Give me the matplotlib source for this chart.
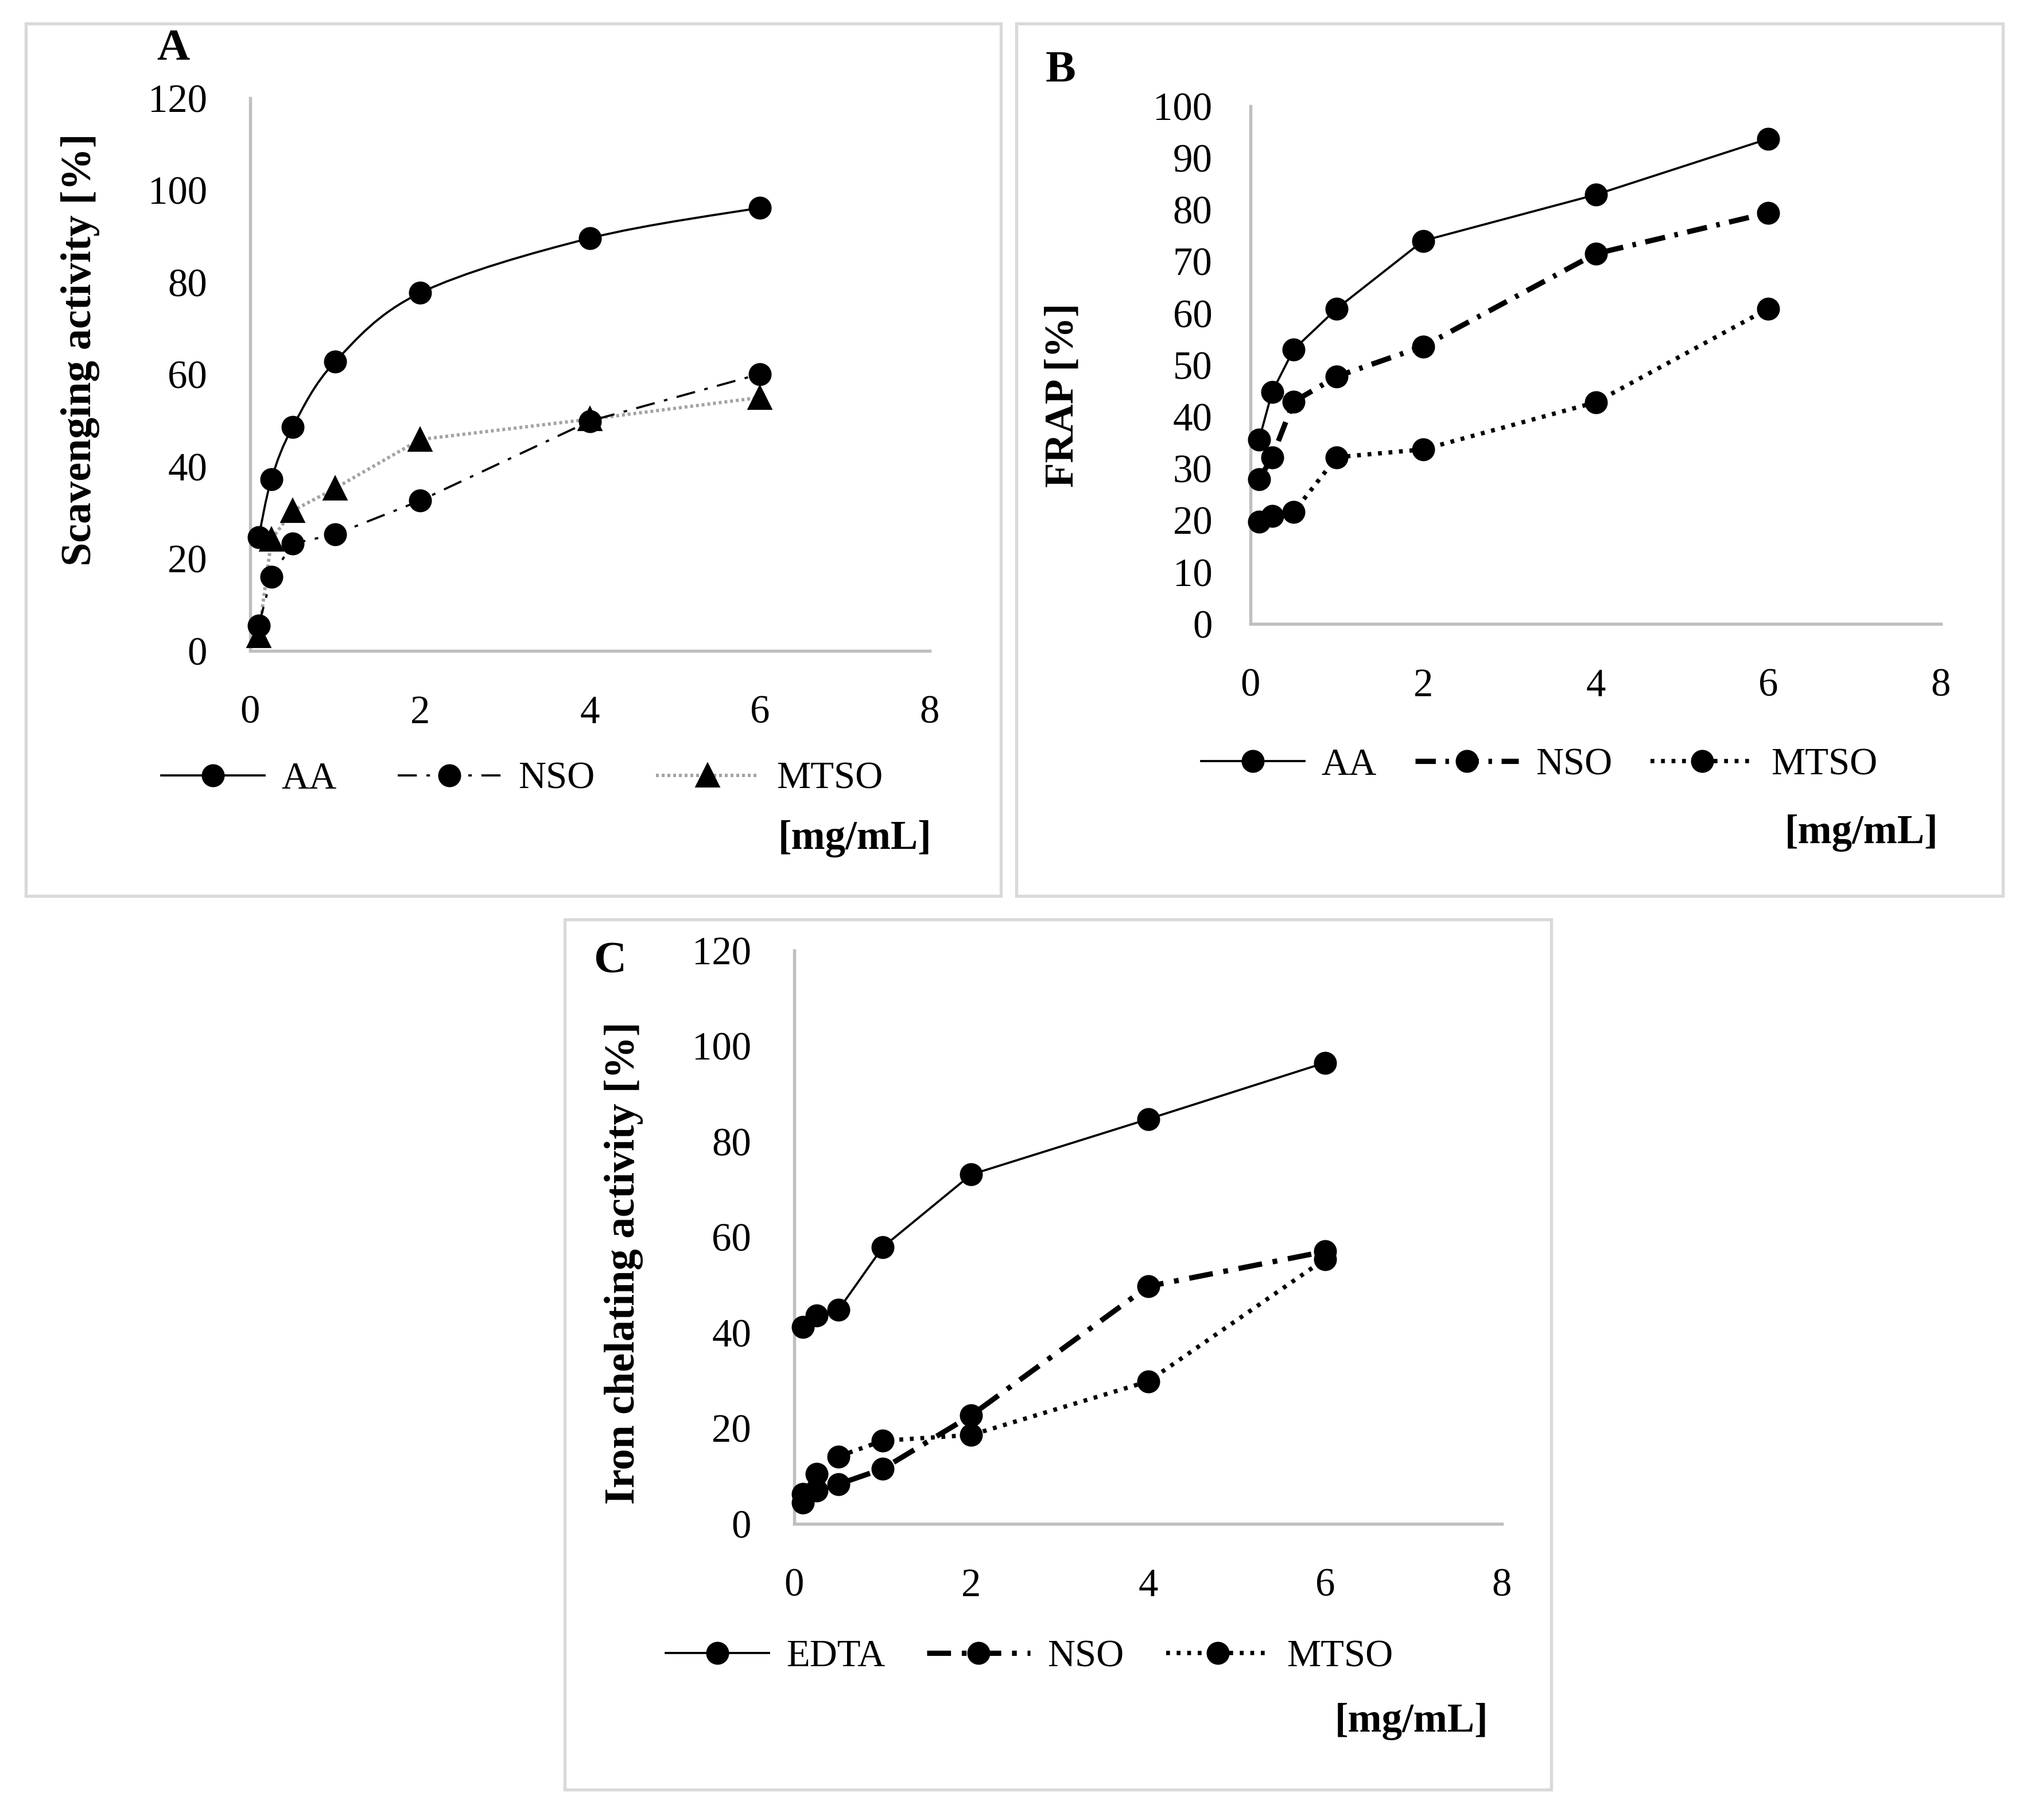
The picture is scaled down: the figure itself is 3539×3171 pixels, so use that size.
import matplotlib
matplotlib.use("Agg")
import matplotlib.pyplot as plt
from matplotlib.lines import Line2D
from matplotlib.path import Path
from matplotlib.patches import PathPatch, Rectangle

plt.rcParams['font.family'] = ['Liberation Serif', 'DejaVu Serif']
plt.rcParams['lines.scale_dashes'] = False

# ---------------- data ----------------
conc = [0.1, 0.25, 0.5, 1, 2, 4, 6]

# Panel A - scavenging activity [%]
a_AA = [24.7, 37.3, 48.6, 62.8, 77.7, 89.6, 96.2]
a_NSO = [5.5, 16.1, 23.3, 25.3, 32.6, 49.9, 60.1]
a_MTSO = [3.3, 24.2, 30.4, 35.3, 45.9, 50.3, 55.0]

# Panel B - FRAP [%]
b_AA = [35.6, 44.8, 53.0, 60.9, 74.0, 82.9, 93.7]
b_NSO = [27.9, 32.2, 42.9, 47.8, 53.6, 71.5, 79.4]
b_MTSO = [19.7, 20.8, 21.6, 32.2, 33.7, 42.8, 60.9]

# Panel C - iron chelating activity [%]
c_EDTA = [41.2, 43.6, 44.8, 57.9, 73.1, 84.7, 96.5]
c_NSO = [4.5, 7.0, 8.3, 11.5, 22.7, 49.7, 57.0]
c_MTSO = [6.3, 10.5, 14.1, 17.4, 18.6, 29.8, 55.4]

xticks = [0, 2, 4, 6, 8]
yticks_A = [0, 20, 40, 60, 80, 100, 120]
yticks_B = [0, 10, 20, 30, 40, 50, 60, 70, 80, 90, 100]
yticks_C = [0, 20, 40, 60, 80, 100, 120]

# ---------------- styles ----------------
TICK_FS = 16.5
LEG_FS = 16
LAB_FS = 17
SPINE_C = '#bfbfbf'
BOX_C = '#d9d9d9'
MS = 8.6

W, H = 3539, 3171
fig = plt.figure(figsize=(W / 300, H / 300), dpi=300)
fig.patch.set_facecolor('white')


def px_rect(x0, y0, x1, y1):
    return [x0 / W, 1 - y1 / H, (x1 - x0) / W, (y1 - y0) / H]


# panel frames
for (x0, y0, x1, y1) in [(45, 41, 1744, 1561), (1771, 41, 3490, 1561), (984, 1602, 2703, 3118)]:
    r = px_rect(x0, y0, x1, y1)
    fig.add_artist(Rectangle((r[0], r[1]), r[2], r[3], transform=fig.transFigure,
                             fill=False, ec=BOX_C, lw=1.3))


def style_axes(ax, yticks, ymax, ypad):
    ax.set_xlim(0, 8)
    ax.set_ylim(0, ymax)
    ax.set_xticks(xticks)
    ax.set_yticks(yticks)
    for s in ['top', 'right']:
        ax.spines[s].set_visible(False)
    for s in ['left', 'bottom']:
        ax.spines[s].set_color(SPINE_C)
        ax.spines[s].set_linewidth(1.3)
    ax.tick_params(axis='both', length=0, labelsize=TICK_FS, colors='black')
    ax.tick_params(axis='y', pad=ypad)
    ax.tick_params(axis='x', pad=18.5)
    ax.set_facecolor('none')


def smooth_path(xs, ys):
    pts = list(zip(xs, ys))
    n = len(pts)
    verts = [pts[0]]
    codes = [Path.MOVETO]
    for i in range(n - 1):
        p0 = pts[i - 1] if i > 0 else pts[i]
        p1 = pts[i]
        p2 = pts[i + 1]
        p3 = pts[i + 2] if i + 2 < n else pts[i + 1]
        c1 = (p1[0] + (p2[0] - p0[0]) / 6, p1[1] + (p2[1] - p0[1]) / 6)
        c2 = (p2[0] - (p3[0] - p1[0]) / 6, p2[1] - (p3[1] - p1[1]) / 6)
        verts += [c1, c2, p2]
        codes += [Path.CURVE4, Path.CURVE4, Path.CURVE4]
    return Path(verts, codes)


solid = dict(color='black', lw=0.9, linestyle='-')
leg_kw = dict(ncol=3, loc='center', frameon=False, fontsize=LEG_FS, handlelength=2.7,
              handletextpad=0.45, borderaxespad=0, borderpad=0)

# ================= Panel A =================
axA = fig.add_axes([436 / W, 1 - 1134 / H, (1620 - 436) / W, (1134 - 171) / H])
style_axes(axA, yticks_A, 120, 18)
nsoA = dict(color='black', lw=0.9, dashes=(8, 4, 1.5, 4))
mtsoA = dict(color='#a3a3a3', lw=1.4, dashes=(1.2, 1.2))
axA.add_patch(PathPatch(smooth_path(conc, a_AA), fill=False, ec='black', lw=0.9, zorder=2))
axA.plot(conc, a_MTSO, **mtsoA, zorder=2)
axA.plot(conc, a_NSO, **nsoA, zorder=2)
axA.plot(conc, a_AA, linestyle='none', marker='o', ms=MS, color='black', zorder=4, clip_on=False)
axA.plot(conc, a_NSO, linestyle='none', marker='o', ms=MS, color='black', zorder=4, clip_on=False)
axA.plot(conc, a_MTSO, linestyle='none', marker='^', ms=MS + 0.5, color='black', zorder=4, clip_on=False)
hA = [Line2D([], [], marker='o', ms=MS, **solid),
      Line2D([], [], marker='o', ms=MS, **nsoA),
      Line2D([], [], marker='^', ms=MS + 0.5, markerfacecolor='black', markeredgecolor='black', **mtsoA)]
axA.legend(hA, ['AA', 'NSO', 'MTSO'], bbox_to_anchor=(0.40, -0.232), columnspacing=1.6, **leg_kw)
axA.set_ylabel('Scavenging activity [%]', fontsize=17.8, fontweight='bold')
axA.yaxis.set_label_coords(-0.221, 0.545)
axA.text(1.003, -0.34, '[mg/mL]', transform=axA.transAxes, ha='right', va='center',
         fontsize=LAB_FS, fontweight='bold')
fig.text(302 / W, 1 - 86 / H, 'A', ha='center', va='center', fontsize=19, fontweight='bold')

# ================= Panel B =================
axB = fig.add_axes([2179 / W, 1 - 1087 / H, (3382 - 2179) / W, (1087 - 185) / H])
style_axes(axB, yticks_B, 100, 16)
nsoB = dict(color='black', lw=2.2, dashes=(8.5, 4, 1.5, 4))
mtsoB = dict(color='black', lw=1.8, dashes=(1.6, 2.8))
axB.plot(conc, b_AA, marker='o', ms=MS, zorder=3, clip_on=False, **solid)
axB.plot(conc, b_NSO, marker='o', ms=MS, zorder=3, clip_on=False, dash_capstyle='butt', **nsoB)
axB.plot(conc, b_MTSO, marker='o', ms=MS, zorder=3, clip_on=False, dash_capstyle='butt', **mtsoB)
hB = [Line2D([], [], marker='o', ms=MS, **solid),
      Line2D([], [], marker='o', ms=MS, dash_capstyle='butt', **nsoB),
      Line2D([], [], marker='o', ms=MS, dash_capstyle='butt', **mtsoB)]
axB.legend(hB, ['AA', 'NSO', 'MTSO'], bbox_to_anchor=(0.418, -0.273), columnspacing=1.0, **leg_kw)
axB.set_ylabel('FRAP [%]', fontsize=LAB_FS, fontweight='bold')
axB.yaxis.set_label_coords(-0.245, 0.442)
axB.text(0.996, -0.404, '[mg/mL]', transform=axB.transAxes, ha='right', va='center',
         fontsize=LAB_FS, fontweight='bold')
fig.text(1848 / W, 1 - 124 / H, 'B', ha='center', va='center', fontsize=19, fontweight='bold')

# ================= Panel C =================
axC = fig.add_axes([1384 / W, 1 - 2655 / H, (2617 - 1384) / W, (2655 - 1656) / H])
style_axes(axC, yticks_C, 120, 18)
nsoC = dict(color='black', lw=2.2, dashes=(10, 4.5, 2, 4.5))
mtsoC = dict(color='black', lw=1.8, dashes=(1.6, 2.8))
axC.plot(conc, c_EDTA, marker='o', ms=MS, zorder=3, clip_on=False, **solid)
axC.plot(conc, c_NSO, marker='o', ms=MS, zorder=3, clip_on=False, dash_capstyle='butt', **nsoC)
axC.plot(conc, c_MTSO, marker='o', ms=MS, zorder=3, clip_on=False, dash_capstyle='butt', **mtsoC)
hC = [Line2D([], [], marker='o', ms=MS, **solid),
      Line2D([], [], marker='o', ms=MS, dash_capstyle='butt', **nsoC),
      Line2D([], [], marker='o', ms=MS, dash_capstyle='butt', **mtsoC)]
axC.legend(hC, ['EDTA', 'NSO', 'MTSO'], bbox_to_anchor=(0.332, -0.232), columnspacing=1.1, **leg_kw)
axC.set_ylabel('Iron chelating activity [%]', fontsize=17.8, fontweight='bold')
axC.yaxis.set_label_coords(-0.213, 0.455)
axC.text(0.981, -0.345, '[mg/mL]', transform=axC.transAxes, ha='right', va='center',
         fontsize=LAB_FS, fontweight='bold')
fig.text(1063 / W, 1 - 1676 / H, 'C', ha='center', va='center', fontsize=19, fontweight='bold')

fig.savefig('out.png', dpi=300, facecolor='white')
